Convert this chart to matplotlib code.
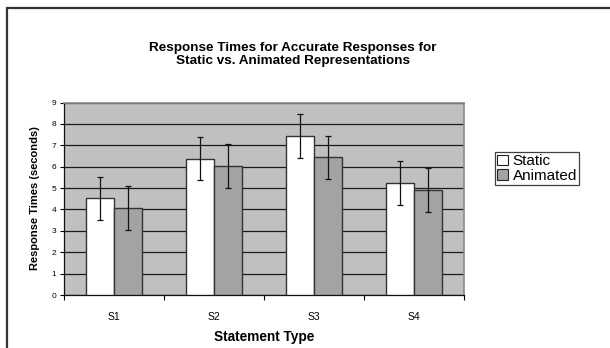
import numpy as np
import matplotlib
matplotlib.use("Agg")
import matplotlib.pyplot as plt
from matplotlib.patches import Patch, Rectangle

plt.rcParams['font.family'] = ['Liberation Sans', 'DejaVu Sans']

# data
categories = ["S1", "S2", "S3", "S4"]
static = [4.52, 6.38, 7.43, 5.24]
animated = [4.07, 6.02, 6.44, 4.90]
static_err = [1.0, 1.0, 1.02, 1.01]
animated_err = [1.01, 1.02, 1.0, 1.02]

fig = plt.figure(figsize=(6.1, 3.48), dpi=100)
fig.patch.set_facecolor("white")

# outer frame of the scanned chart (right/bottom run past the crop)
fig.patches.append(Rectangle((6.5 / 610, -0.1), 1.2, 1.1 - 7.5 / 348,
                             transform=fig.transFigure, fill=False,
                             edgecolor="#333333", lw=1.6))

ax = fig.add_axes([64 / 610, 1 - 295 / 348, 400 / 610, (295 - 102.5) / 348])
ax.set_facecolor("#c0c0c0")

x = np.arange(len(categories))
w = 0.28
ax.bar(x - w / 2, static, w, color="white", edgecolor="#333333", lw=1.0,
       zorder=3, label="Static")
ax.bar(x + w / 2, animated, w, color="#a3a3a6", edgecolor="#333333", lw=1.0,
       zorder=3, label="Animated")
ax.errorbar(x - w / 2, static, yerr=static_err, fmt="none", ecolor="#111111",
            elinewidth=0.9, capsize=2.5, capthick=0.9, zorder=4)
ax.errorbar(x + w / 2, animated, yerr=animated_err, fmt="none", ecolor="#111111",
            elinewidth=0.9, capsize=2.5, capthick=0.9, zorder=4)

ax.set_xlim(-0.5, 3.5)
ax.set_ylim(0, 9)
ax.set_yticks(range(10))
ax.yaxis.grid(True, color="#1a1a1a", lw=0.9)
ax.set_axisbelow(True)
ax.tick_params(axis="y", labelsize=6, length=3, width=0.8, pad=2.5, direction="out")
ax.set_xticks(x)
ax.set_xticklabels(categories, fontsize=7.5)
ax.set_xticks(np.arange(-0.5, 4.0, 1.0), minor=True)
ax.tick_params(axis="x", which="major", length=0, pad=12)
ax.tick_params(axis="x", which="minor", length=3.5, width=0.8, direction="out")

for s in ["top", "right"]:
    ax.spines[s].set_color("#8a8a8a")
    ax.spines[s].set_linewidth(1.2)
for s in ["left", "bottom"]:
    ax.spines[s].set_color("#111111")
    ax.spines[s].set_linewidth(0.9)

fig.text(293 / 610, 1 - 54.5 / 348,
         "Response Times for Accurate Responses for\nStatic vs. Animated Representations",
         ha="center", va="center", fontsize=9.7, fontweight="bold", linespacing=1.15)
fig.text(264 / 610, 1 - 337 / 348, "Statement Type", ha="center", va="center",
         fontsize=9.8, fontweight="bold")
fig.text(35 / 610, 1 - 198.5 / 348, "Response Times (seconds)", ha="center",
         va="center", rotation=90, fontsize=8, fontweight="bold")

handles = [Patch(facecolor="white", edgecolor="#222222", lw=0.8),
           Patch(facecolor="#a3a3a6", edgecolor="#222222", lw=0.8)]
leg = fig.legend(handles, ["Static", "Animated"], loc="upper left",
                 bbox_to_anchor=(495 / 610, 1 - 152 / 348), fontsize=11,
                 frameon=True, fancybox=False, shadow=False,
                 handlelength=0.7, handleheight=0.7, handletextpad=0.3,
                 borderpad=0.15, labelspacing=0.05, borderaxespad=0)
leg.get_frame().set_edgecolor("#111111")
leg.get_frame().set_linewidth(0.9)

fig.savefig("out.png", dpi=100)
